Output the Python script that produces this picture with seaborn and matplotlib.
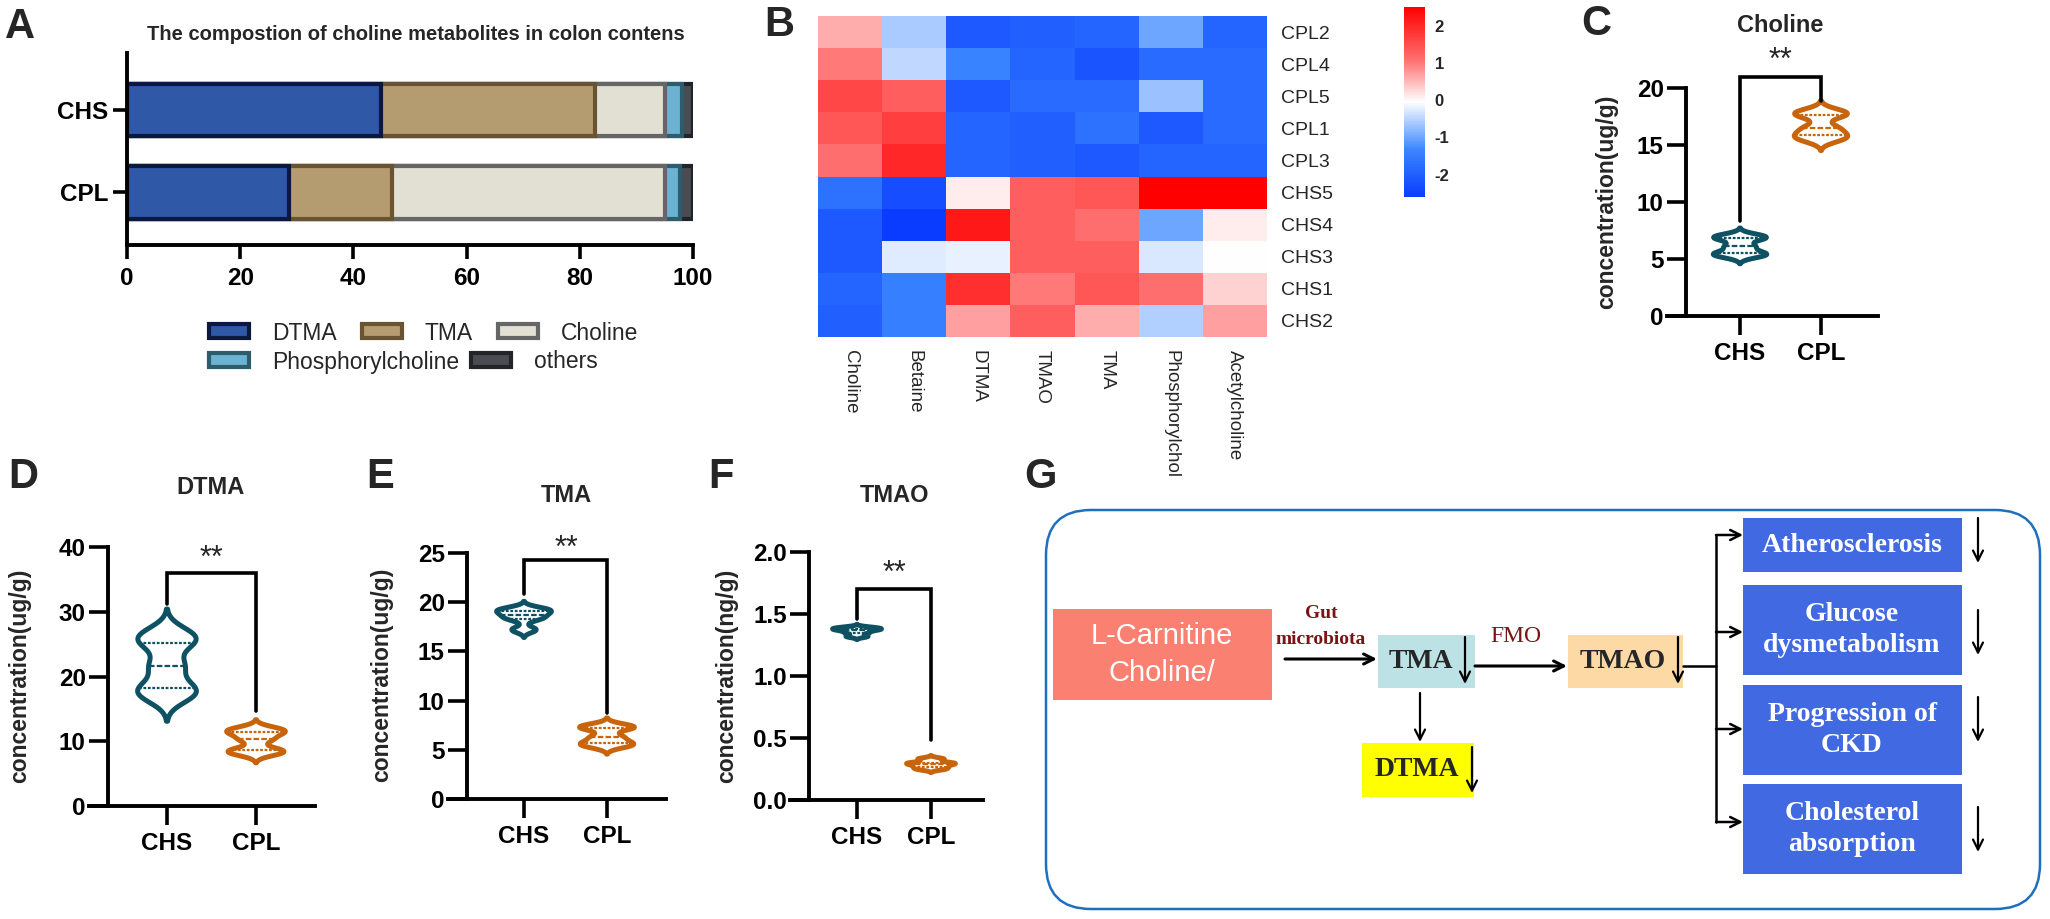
import numpy as np
import pandas as pd
import matplotlib
matplotlib.use("Agg")
import matplotlib.pyplot as plt
import seaborn as sns
from matplotlib.colors import LinearSegmentedColormap
from matplotlib.patches import Patch, Rectangle, FancyBboxPatch

# ---------------- data ----------------
groups = ["CHS", "CPL"]

comp_names = ["DTMA", "TMA", "Choline", "Phosphorylcholine", "others"]
comp_chs = [44.8, 37.8, 12.5, 2.9, 2.0]
comp_cpl = [28.7, 18.1, 48.3, 2.6, 2.3]

heat_rows = ["CPL2", "CPL4", "CPL5", "CPL1", "CPL3", "CHS5", "CHS4", "CHS3", "CHS1", "CHS2"]
heat_cols = ["Choline", "Betaine", "DTMA", "TMAO", "TMA", "Phosphorylchol", "Acetylcholine"]
heat_z = [
    [0.6, -0.6, -2.1, -2.0, -1.9, -1.0, -1.9],
    [1.0, -0.45, -1.4, -1.9, -2.2, -1.8, -1.8],
    [1.6, 1.3, -2.1, -1.8, -1.8, -0.7, -1.8],
    [1.4, 1.7, -1.9, -2.0, -1.7, -2.1, -1.8],
    [1.1, 2.0, -1.9, -2.0, -2.1, -1.9, -1.9],
    [-1.7, -2.3, 0.1, 1.3, 1.4, 2.5, 2.5],
    [-2.1, -2.6, 2.2, 1.3, 1.1, -1.0, 0.1],
    [-2.1, -0.25, -0.2, 1.3, 1.3, -0.3, -0.05],
    [-1.9, -1.45, 1.9, 1.0, 1.4, 1.1, 0.3],
    [-2.0, -1.45, 0.7, 1.3, 0.6, -0.55, 0.7],
]
cbar_ticks = [-2, -1, 0, 1, 2]

choline_chs = [5.3, 5.5, 6.1, 6.8, 7.0]
choline_cpl = [15.5, 15.9, 16.5, 17.6, 17.9]
dtma_chs = [17.0, 18.3, 21.6, 25.2, 26.5]
dtma_cpl = [8.2, 8.6, 10.3, 11.4, 11.8]
tma_chs = [17.2, 18.3, 18.7, 19.1, 19.3]
tma_cpl = [5.4, 5.7, 6.3, 7.2, 7.4]
tmao_chs = [1.32, 1.35, 1.37, 1.38, 1.39]
tmao_cpl = [0.25, 0.27, 0.29, 0.30, 0.33]

# ---------------- style ----------------
sns.set_theme(style="ticks")
plt.rcParams["font.family"] = ["Liberation Sans", "DejaVu Sans"]
plt.rcParams["axes.unicode_minus"] = False
SERIF = ["Liberation Serif", "DejaVu Serif"]

W, H = 2050, 919
fig = plt.figure(figsize=(20.5, 9.19), dpi=100)
fig.patch.set_facecolor("white")


def add_ax(x0, y0, x1, y1, **kw):
    return fig.add_axes([x0 / W, 1 - y1 / H, (x1 - x0) / W, (y1 - y0) / H], **kw)


def bold_ticks(ax):
    for lab in ax.get_xticklabels() + ax.get_yticklabels():
        lab.set_fontweight("bold")


# ---------------- Panel A: stacked bars ----------------
fills = ["#2f58a6", "#b59b70", "#e2dfd3", "#6cb2d2", "#4a4c52"]
edges = ["#0b1a3c", "#6a5330", "#666666", "#2d5d6c", "#222428"]

axA = add_ax(127, 53, 693, 245)
cum_chs = np.cumsum(comp_chs)
cum_cpl = np.cumsum(comp_cpl)
for k in reversed(range(len(comp_names))):
    sns.barplot(x=[cum_chs[k], cum_cpl[k]], y=groups, orient="h", color=fills[k],
                edgecolor=edges[k], linewidth=3, width=0.646, saturation=1, ax=axA)
axA.set_xlim(0, 100)
axA.set_ylim(1.646, -0.695)
axA.set_xticks([0, 20, 40, 60, 80, 100])
axA.set_xlabel("")
axA.set_ylabel("")
for s in ["top", "right"]:
    axA.spines[s].set_visible(False)
for s in ["left", "bottom"]:
    axA.spines[s].set_linewidth(2.8)
    axA.spines[s].set_color("black")
axA.tick_params(axis="both", direction="out", length=10, width=2.6, labelsize=17.5, colors="black")
axA.tick_params(axis="x", pad=6)
bold_ticks(axA)
fig.text(416 / W, 1 - 34 / H, "The compostion of choline metabolites in colon contens",
         ha="center", va="center", fontsize=14.5, fontweight="bold")

handles = [Patch(facecolor=fills[k], edgecolor=edges[k], linewidth=3, label=comp_names[k])
           for k in range(5)]
leg_kw = dict(frameon=False, fontsize=16.5, handlelength=1.75, handleheight=0.55,
              handletextpad=1.0, borderpad=0, borderaxespad=0, loc="center left")
fig.legend(handles=handles[:3], ncol=3, columnspacing=1.1,
           bbox_to_anchor=(209 / W, 1 - 333 / H), **leg_kw)
fig.legend(handles=handles[3:], ncol=2, columnspacing=0.5,
           bbox_to_anchor=(209 / W, 1 - 362 / H), **leg_kw)

# ---------------- Panel B: heatmap ----------------
cmap = LinearSegmentedColormap.from_list(
    "bwr_c", [(0.0, "#0a3cff"), (0.25, "#3b87ff"), (0.5, "#ffffff"), (0.72, "#ff7070"), (1.0, "#ff0000")])
axB = add_ax(818, 16, 1267, 337)
cax = add_ax(1404, 7, 1425, 197)
df_heat = pd.DataFrame(heat_z, index=heat_rows, columns=heat_cols)
sns.heatmap(df_heat, ax=axB, cbar_ax=cax, cmap=cmap, vmin=-2.6, vmax=2.5,
            cbar_kws={"ticks": cbar_ticks}, linewidths=0)
axB.yaxis.tick_right()
axB.set_yticklabels(heat_rows, rotation=0, fontsize=14)
axB.set_xticklabels(heat_cols, rotation=-90, fontsize=13.5, ha="center", va="top")
axB.tick_params(axis="x", length=0, pad=9)
axB.tick_params(axis="y", length=0, pad=10)
axB.set_xlabel("")
axB.set_ylabel("")
axB.collections[0].colorbar.outline.set_visible(False)
cax.tick_params(length=0, labelsize=12, pad=7)
for lab in cax.get_yticklabels():
    lab.set_fontweight("bold")

# ---------------- Panels C-F: violins ----------------
teal = "#0d5163"
orange = "#c8640c"
pal = {"CHS": teal, "CPL": orange}


def violin_panel(xaxis0, xaxis1, ytop, ybot, xlim, chs, cpl, ymax, yticks, ylabels,
                 title, title_xy, ylabel, ylabel_xy, bracket, star_xy):
    ax = add_ax(xaxis0, ytop, xaxis1, ybot)
    df = pd.DataFrame({"group": ["CHS"] * len(chs) + ["CPL"] * len(cpl),
                       "value": list(chs) + list(cpl)})
    sns.violinplot(data=df, x="group", y="value", hue="group", order=groups, hue_order=groups,
                   palette=pal, fill=False, inner="quart", linewidth=3.6, width=0.66,
                   density_norm="width", bw_adjust=0.5, cut=2.6, legend=False, ax=ax,
                   inner_kws={"linewidth": 1.6})
    ax.set_xlim(*xlim)
    ax.set_ylim(0, ymax)
    ax.set_yticks(yticks)
    ax.set_yticklabels(ylabels)
    ax.set_xlabel("")
    ax.set_ylabel("")
    for s in ["top", "right"]:
        ax.spines[s].set_visible(False)
    for s in ["left", "bottom"]:
        ax.spines[s].set_linewidth(2.8)
        ax.spines[s].set_color("black")
    ax.spines["bottom"].set_bounds(xlim[0] - (xlim[1] - xlim[0]) * 19 / (xaxis1 - xaxis0), xlim[1])
    ax.tick_params(axis="both", direction="out", length=14, width=2.6, labelsize=17.5, colors="black")
    ax.tick_params(axis="x", pad=5)
    ax.tick_params(axis="y", pad=2)
    bold_ticks(ax)
    y_left, y_top, y_right = bracket
    ax.plot([0, 0, 1, 1], [y_left, y_top, y_top, y_right], color="black", lw=2.6, clip_on=False,
            solid_joinstyle="miter")
    fig.text(star_xy[0] / W, 1 - (star_xy[1] + 17) / H, "**", ha="center", va="baseline",
             fontsize=22)
    fig.text(title_xy[0] / W, 1 - title_xy[1] / H, title, ha="center", va="center",
             fontsize=17, fontweight="bold")
    fig.text(ylabel_xy[0] / W, 1 - ylabel_xy[1] / H, ylabel, ha="center", va="center",
             rotation=90, fontsize=16.5, fontweight="bold")
    return ax


violin_panel(1686, 1878, 88, 316, (-0.667, 1.704), choline_chs, choline_cpl, 20,
             [0, 5, 10, 15, 20], ["0", "5", "10", "15", "20"],
             "Choline", (1780, 25), "concentration(ug/g)", (1607, 202), (8.3, 21.0, 18.9), (1780, 52))
violin_panel(108, 315, 547, 806, (-0.663, 1.663), dtma_chs, dtma_cpl, 40,
             [0, 10, 20, 30, 40], ["0", "10", "20", "30", "40"],
             "DTMA", (211, 487), "concentration(ug/g)", (20, 676), (31.2, 36.0, 14.7), (211, 550))
violin_panel(467, 666, 553, 799, (-0.687, 1.711), tma_chs, tma_cpl, 25,
             [0, 5, 10, 15, 20, 25], ["0", "5", "10", "15", "20", "25"],
             "TMA", (566, 496), "concentration(ug/g)", (382, 675), (20.8, 24.3, 8.7), (566, 540))
violin_panel(809, 983, 552, 800, (-0.649, 1.703), tmao_chs, tmao_cpl, 2.0,
             [0, 0.5, 1.0, 1.5, 2.0], ["0.0", "0.5", "1.0", "1.5", "2.0"],
             "TMAO", (894, 496), "concentration(ng/g)", (727, 676), (1.46, 1.70, 0.48), (894, 565))

# ---------------- Panel G: diagram ----------------
axG = fig.add_axes([0, 0, 1, 1])
axG.set_xlim(0, W)
axG.set_ylim(H, 0)
axG.axis("off")
axG.patch.set_alpha(0)

axG.add_patch(FancyBboxPatch((1046, 510), 994, 399, boxstyle="round,pad=0,rounding_size=45",
                             facecolor="none", edgecolor="#1f6fbf", linewidth=1.8))


def box(x0, y0, x1, y1, color):
    axG.add_patch(Rectangle((x0, y0), x1 - x0, y1 - y0, facecolor=color, edgecolor="none"))


def arrow(x0, y0, x1, y1, lw=1.6, ms=18):
    axG.annotate("", xy=(x1, y1), xytext=(x0, y0),
                 arrowprops=dict(arrowstyle="->", lw=lw, color="black", mutation_scale=ms,
                                 shrinkA=0, shrinkB=0))


box(1053, 609, 1272, 700, "#fa8072")
axG.text(1162, 636, "L-Carnitine", ha="center", va="center", color="white", fontsize=21)
axG.text(1162, 673, "Choline/", ha="center", va="center", color="white", fontsize=21)

arrow(1285, 659, 1377, 659, lw=2.2)
axG.text(1321, 613, "Gut", ha="center", va="center", color="#7a1414", fontsize=14,
         family=SERIF, fontweight="bold")
axG.text(1321, 639, "microbiota", ha="center", va="center", color="#7a1414", fontsize=14,
         family=SERIF, fontweight="bold")

box(1378, 635, 1475, 688, "#bde2e6")
axG.text(1421, 662, "TMA", ha="center", va="center", fontsize=20, family=SERIF, fontweight="bold")
arrow(1465, 637, 1465, 684)

arrow(1475, 666, 1567, 666, lw=2.2)
axG.text(1516, 636, "FMO", ha="center", va="center", color="#7a1414", fontsize=17, family=SERIF)

box(1568, 635, 1683, 688, "#fdd9a6")
axG.text(1623, 662, "TMAO", ha="center", va="center", fontsize=20, family=SERIF, fontweight="bold")
arrow(1678, 637, 1678, 684)

arrow(1420, 693, 1420, 742)
box(1362, 743, 1474, 797, "#ffff00")
axG.text(1417, 770, "DTMA", ha="center", va="center", fontsize=20, family=SERIF, fontweight="bold")
arrow(1472, 747, 1472, 793)

axG.plot([1683, 1716], [666, 666], color="black", lw=1.8)
axG.plot([1716, 1716], [535, 822], color="black", lw=1.8)
for yy in [535, 632, 729, 822]:
    arrow(1716, yy, 1743, yy, lw=1.8)

blue_boxes = [(518, 572, "Atherosclerosis"), (585, 675, "Glucose\ndysmetabolism"),
              (685, 775, "Progression of\nCKD"), (784, 874, "Cholesterol\nabsorption")]
down_arrows = [(518, 563), (610, 655), (697, 742), (807, 852)]
for (y0, y1, txt), (a0, a1) in zip(blue_boxes, down_arrows):
    box(1743, y0, 1962, y1, "#4169e1")
    axG.text(1852, (y0 + y1) / 2, txt, ha="center", va="center", color="white", fontsize=20,
             family=SERIF, fontweight="bold", linespacing=1.3)
    arrow(1978, a0, 1978, a1)

# ---------------- panel letters ----------------
for letter, (lx, ly) in {"A": (20, 27), "B": (779, 25), "C": (1596, 24), "D": (23, 477),
                         "E": (380, 477), "F": (721, 477), "G": (1040, 477)}.items():
    fig.text(lx / W, 1 - ly / H, letter, ha="center", va="center", fontsize=30, fontweight="bold")

fig.savefig("out.png", dpi=100, facecolor="white")
